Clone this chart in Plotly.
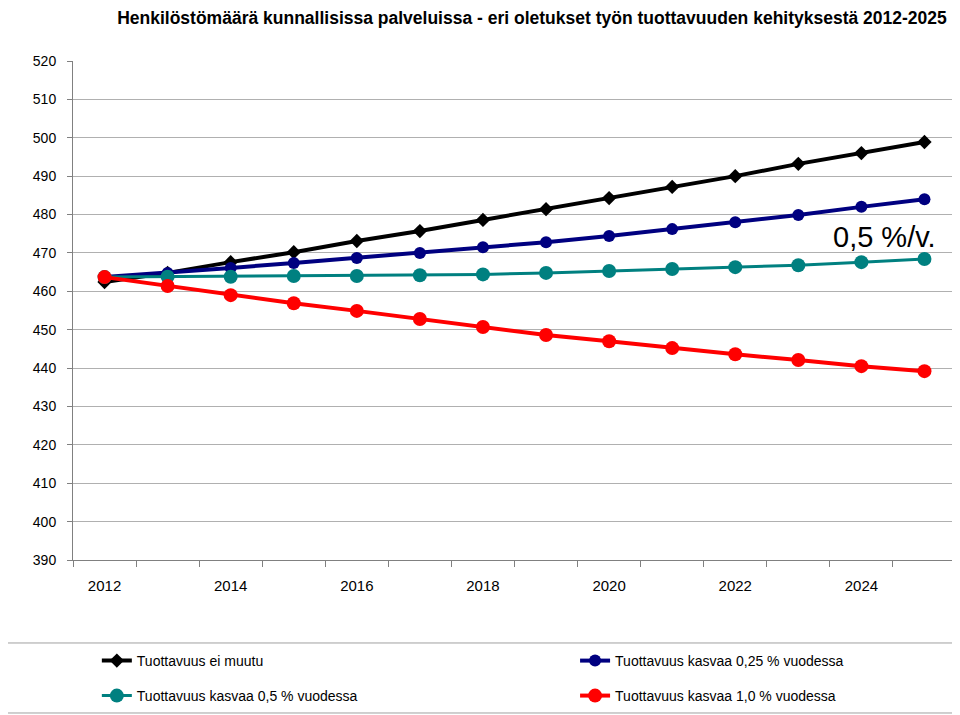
import plotly.graph_objects as go

years = list(range(2012, 2026))
ei_muutu = [462.4, 464.8, 467.6, 470.2, 473.1, 475.7, 478.6, 481.4, 484.3, 487.2, 490.0, 493.2, 496.0, 498.9]
kasvaa_025 = [463.7, 464.8, 466.1, 467.4, 468.7, 470.0, 471.5, 472.8, 474.4, 476.2, 478.0, 479.9, 482.0, 484.0]
kasvaa_05 = [463.7, 463.8, 463.8, 464.0, 464.0, 464.2, 464.4, 464.8, 465.3, 465.8, 466.3, 466.8, 467.6, 468.4]
kasvaa_10 = [463.7, 461.4, 459.0, 456.9, 454.9, 452.8, 450.7, 448.6, 447.0, 445.2, 443.6, 442.1, 440.5, 439.2]

names = ["Tuottavuus ei muutu", "Tuottavuus kasvaa 0,25 % vuodessa",
         "Tuottavuus kasvaa 0,5 % vuodessa", "Tuottavuus kasvaa 1,0 % vuodessa"]
x_labels = [str(y) for y in range(2012, 2025, 2)]
title_text = "Henkilöstömäärä kunnallisissa palveluissa - eri oletukset työn tuottavuuden kehityksestä 2012-2025"
note_text = "0,5 %/v."

FONT = "Liberation Sans, Arial, sans-serif"

fig = go.Figure()
fig.add_trace(go.Scatter(x=years, y=ei_muutu, name=names[0], mode="lines+markers",
                         line=dict(color="#000000", width=4),
                         marker=dict(symbol="diamond", size=11, color="#000000"), legend="legend"))
fig.add_trace(go.Scatter(x=years, y=kasvaa_025, name=names[1], mode="lines+markers",
                         line=dict(color="#000080", width=4),
                         marker=dict(symbol="circle", size=12, color="#000080"), legend="legend2"))
fig.add_trace(go.Scatter(x=years, y=kasvaa_05, name=names[2], mode="lines+markers",
                         line=dict(color="#008080", width=3),
                         marker=dict(symbol="circle", size=14, color="#008080"), legend="legend3"))
fig.add_trace(go.Scatter(x=years, y=kasvaa_10, name=names[3], mode="lines+markers",
                         line=dict(color="#FF0000", width=4),
                         marker=dict(symbol="circle", size=14, color="#FF0000"), legend="legend4"))

leg_common = dict(orientation="v",
                  font=dict(family=FONT, size=14, color="#000000"),
                  bgcolor="rgba(0,0,0,0)", borderwidth=0, xanchor="left", yanchor="middle",
                  itemclick=False, itemdoubleclick=False)

col1_x = 0.027
col2_x = 0.5686
row1_y = -0.2024
row2_y = -0.2725

fig.update_layout(
    width=952, height=707,
    margin=dict(l=65, r=4, t=53, b=155, autoexpand=False),
    paper_bgcolor="white", plot_bgcolor="white",
    font=dict(family=FONT, color="#000000"),
    title=dict(text="<b>" + title_text + "</b>", x=0.5504, xanchor="center",
               y=0.9855, yanchor="middle", yref="container",
               font=dict(family=FONT, size=17.5, color="#000000")),
    showlegend=True,
    legend=dict(x=col1_x, y=row1_y, **leg_common),
    legend2=dict(x=col2_x, y=row1_y, **leg_common),
    legend3=dict(x=col1_x, y=row2_y, **leg_common),
    legend4=dict(x=col2_x, y=row2_y, **leg_common),
    xaxis=dict(range=[2011.5, 2025.5], tickvals=[int(s) for s in x_labels], ticktext=x_labels,
               ticks="", showgrid=False, zeroline=False,
               showline=True, linecolor="#808080", linewidth=1, mirror=False,
               tickfont=dict(family=FONT, size=15, color="#000000"), ticklabelstandoff=12,
               minor=dict(tick0=2011.5, dtick=1, ticks="outside", ticklen=6,
                          tickcolor="#808080", showgrid=False)),
    yaxis=dict(range=[390, 520], dtick=10, tick0=390, ticks="outside", ticklen=5,
               tickcolor="#808080", showgrid=True, gridcolor="#b0b0b0", gridwidth=1,
               zeroline=False, showline=True, linecolor="#808080", linewidth=1,
               ticklabelstandoff=8,
               tickfont=dict(family=FONT, size=14, color="#000000")),
)

# right plot border
fig.add_shape(type="line", xref="paper", yref="paper", x0=1, x1=1, y0=0, y1=1,
              line=dict(color="#a0a0a0", width=1))
# legend box
fig.add_shape(type="rect", xref="paper", yref="paper", x0=-0.0793, x1=0.9989,
              y0=-0.1663, y1=-0.3066, line=dict(color="#a0a0a0", width=1))

fig.add_annotation(x=2025.22, y=474.2, xref="x", yref="y", text=note_text, showarrow=False,
                   xanchor="right", yanchor="middle",
                   font=dict(family=FONT, size=29, color="#000000"))

fig.write_html("out.html")
